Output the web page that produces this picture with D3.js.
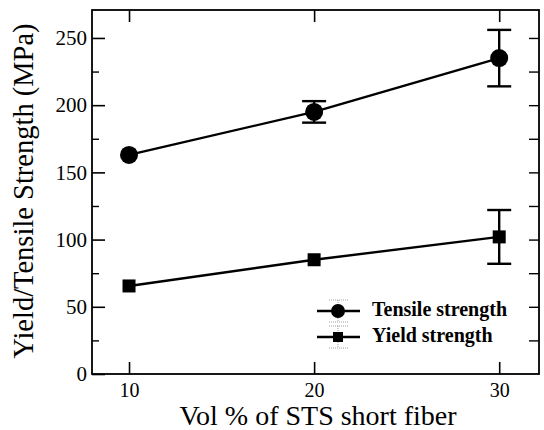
<!DOCTYPE html>
<html>
<head>
<meta charset="utf-8">
<script src="https://cdn.jsdelivr.net/npm/d3@7"></script>
<style>
  body { margin: 0; background: #fff; }
  text { font-family: "Liberation Serif", "Times New Roman", serif; fill: #000; }
</style>
</head>
<body>
<div id="chart"></div>
<script>
// data
const volPct = [10, 20, 30];
const tensile = [163, 195, 235];
const tensileErr = [0, 8, 21];
const yieldStr = [65.5, 85, 102];
const yieldErr = [0, 0, 20];
const xTicks = [10, 20, 30];
const yTicks = [0, 50, 100, 150, 200, 250];
const legendKeys = ["Tensile strength", "Yield strength"];

const W = 544, H = 430;
const margin = {top: 10, right: 5, bottom: 56, left: 92},
    width = W - margin.left - margin.right,
    height = H - margin.top - margin.bottom;

const svg = d3.select("#chart")
  .append("svg")
    .attr("width", W)
    .attr("height", H)
  .append("g")
    .attr("transform", `translate(${margin.left},${margin.top})`);

const x = d3.scaleLinear().domain([8, 32.15]).range([0, width]);
const y = d3.scaleLinear().domain([0, 270.8]).range([height, 0]);

// frame
svg.append("rect")
  .attr("width", width).attr("height", height)
  .attr("fill", "none").attr("stroke", "#000").attr("stroke-width", 1.8);

// inward ticks: left axis, major every 50, minor every 25
const yMinor = d3.range(25, 270, 50);
svg.append("g")
  .call(d3.axisLeft(y).tickValues(yTicks).tickSize(-13).tickPadding(5).tickFormat(d3.format("d")))
  .call(g => g.select(".domain").remove())
  .call(g => g.selectAll("line").attr("stroke-width", 1.6))
  .call(g => g.selectAll("text").attr("font-size", 21));
svg.append("g")
  .call(d3.axisLeft(y).tickValues(yMinor).tickSize(-7).tickFormat(""))
  .call(g => g.select(".domain").remove())
  .call(g => g.selectAll("line").attr("stroke-width", 1.4));

// right axis ticks every 25
svg.append("g")
  .attr("transform", `translate(${width},0)`)
  .call(d3.axisRight(y).tickValues(d3.range(25, 270, 25)).tickSize(-10).tickFormat(""))
  .call(g => g.select(".domain").remove())
  .call(g => g.selectAll("line").attr("stroke-width", 1.4));

// bottom and top
svg.append("g")
  .attr("transform", `translate(0,${height})`)
  .call(d3.axisBottom(x).tickValues(xTicks).tickSize(-12).tickPadding(9).tickFormat(d3.format("d")))
  .call(g => g.select(".domain").remove())
  .call(g => g.selectAll("line").attr("stroke-width", 1.6))
  .call(g => g.selectAll("text").attr("font-size", 20));
svg.append("g")
  .call(d3.axisTop(x).tickValues(xTicks).tickSize(-12).tickFormat(""))
  .call(g => g.select(".domain").remove())
  .call(g => g.selectAll("line").attr("stroke-width", 1.6));

// axis titles
svg.append("text")
  .attr("x", 318 - margin.left).attr("y", 425 - margin.top)
  .attr("text-anchor", "middle").attr("font-size", 28)
  .text("Vol % of STS short fiber");
svg.append("text")
  .attr("transform", `translate(${33 - margin.left},${191 - margin.top}) rotate(-90)`)
  .attr("text-anchor", "middle").attr("font-size", 28.5)
  .text("Yield/Tensile Strength (MPa)");

const series = [
  {vals: tensile, err: tensileErr, shape: "circle"},
  {vals: yieldStr, err: yieldErr, shape: "square"}
];

const line = d3.line().x((d, i) => x(volPct[i])).y(d => y(d));

series.forEach(s => {
  svg.append("path")
    .datum(s.vals)
    .attr("fill", "none").attr("stroke", "#000").attr("stroke-width", 2.4)
    .attr("d", line);

  // error bars
  const eb = svg.append("g");
  s.vals.forEach((v, i) => {
    if (!s.err[i]) return;
    const cx = x(volPct[i]);
    eb.append("line").attr("x1", cx).attr("x2", cx)
      .attr("y1", y(v - s.err[i])).attr("y2", y(v + s.err[i]))
      .attr("stroke", "#000").attr("stroke-width", 2.4);
    [v - s.err[i], v + s.err[i]].forEach(e => {
      eb.append("line").attr("x1", cx - 12).attr("x2", cx + 12)
        .attr("y1", y(e)).attr("y2", y(e))
        .attr("stroke", "#000").attr("stroke-width", 2.4);
    });
  });

  if (s.shape === "circle") {
    svg.selectAll(null).data(s.vals).join("circle")
      .attr("cx", (d, i) => x(volPct[i])).attr("cy", d => y(d))
      .attr("r", 9).attr("fill", "#000");
  } else {
    svg.selectAll(null).data(s.vals).join("rect")
      .attr("x", (d, i) => x(volPct[i]) - 6.5).attr("y", d => y(d) - 6.5)
      .attr("width", 13).attr("height", 13).attr("fill", "#000");
  }
});

// legend
const legend = svg.selectAll(".legend").data(legendKeys)
  .join("g")
    .attr("class", "legend")
    .attr("transform", (d, i) => `translate(${317 - margin.left},${311 - margin.top + i * 26})`);

legend.append("line")
  .attr("x1", 0).attr("x2", 43)
  .attr("stroke", "#000").attr("stroke-width", 2.4);
legend.append("line")
  .attr("x1", 21).attr("x2", 21).attr("y1", -11).attr("y2", 11)
  .attr("stroke", "#888").attr("stroke-width", 0.8).attr("stroke-dasharray", "1,1");
[-11, 11].forEach(dy => {
  legend.append("line")
    .attr("x1", 12).attr("x2", 31).attr("y1", dy).attr("y2", dy)
    .attr("stroke", "#888").attr("stroke-width", 0.8).attr("stroke-dasharray", "1,1");
});
legend.filter((d, i) => i === 0).append("circle")
  .attr("cx", 21).attr("r", 7).attr("fill", "#000");
legend.filter((d, i) => i === 1).append("rect")
  .attr("x", 16).attr("y", -5).attr("width", 10).attr("height", 10).attr("fill", "#000");
legend.append("text")
  .attr("x", 55).attr("y", 5)
  .attr("font-size", 20).attr("font-weight", "bold")
  .text(d => d);
</script>
</body>
</html>
